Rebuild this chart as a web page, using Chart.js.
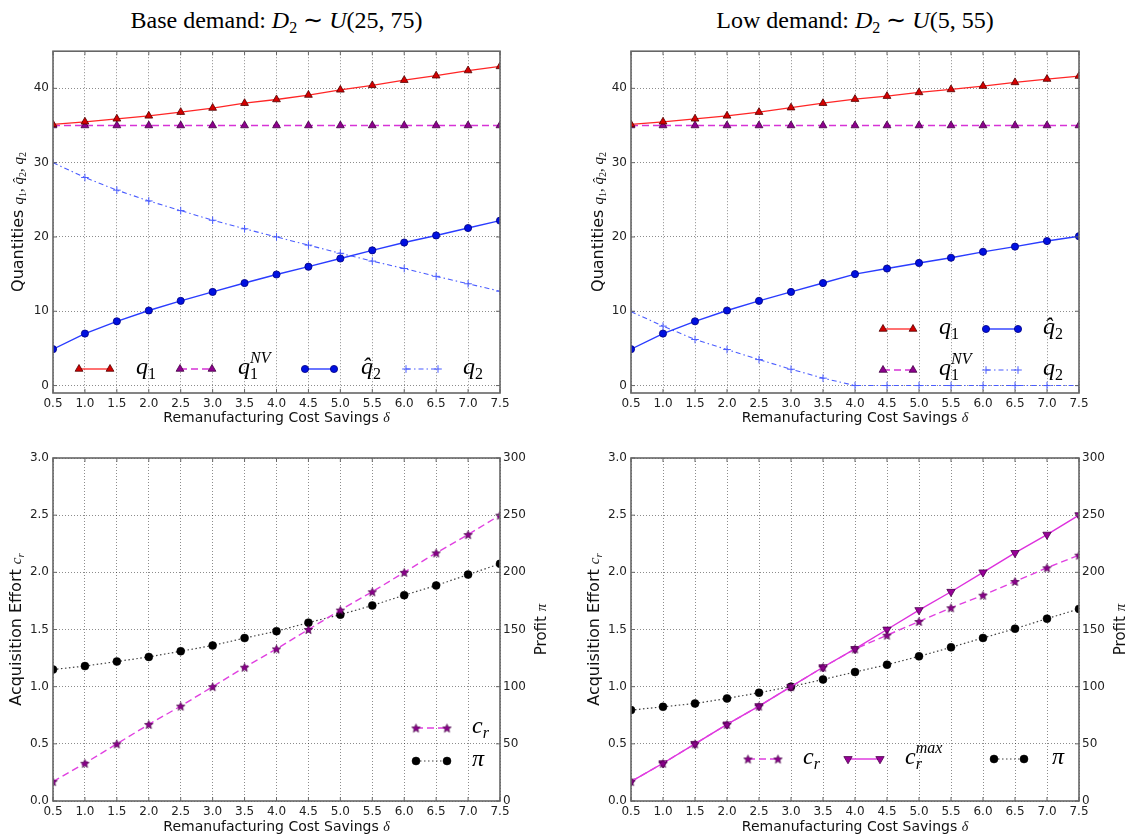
<!DOCTYPE html>
<html>
<head>
<meta charset="utf-8">
<script src="https://cdn.jsdelivr.net/npm/chart.js@4.4.1/dist/chart.umd.min.js"></script>
<style>
    body { margin: 0; background: #fff; width: 1129px; height: 834px; position: relative; overflow: hidden; }
    canvas { position: absolute; }
    .title { position: absolute; font-family: "Liberation Serif", serif; font-size: 24px; line-height: 32px; text-align: center; color: #000; white-space: nowrap; }
    .title sub { font-size: 16px; vertical-align: -5px; line-height: 0; }
</style>
</head>
<body>
<div class="title" style="left:53px; width:447px; top:4px;">Base demand: <i>D</i><sub>2</sub> ∼ <i>U</i>(25, 75)</div>
<div class="title" style="left:631px; width:448px; top:4px;">Low demand: <i>D</i><sub>2</sub> ∼ <i>U</i>(5, 55)</div>
<canvas id="qBase"></canvas>
<canvas id="qLow"></canvas>
<canvas id="effBase"></canvas>
<canvas id="effLow"></canvas>
<script>
// remanufacturing cost savings delta (x values / tick labels)
const deltas = [0.5, 1.0, 1.5, 2.0, 2.5, 3.0, 3.5, 4.0, 4.5, 5.0, 5.5, 6.0, 6.5, 7.0, 7.5];
const qTicks = [0, 10, 20, 30, 40];
const effortTicks = [0, 0.5, 1.0, 1.5, 2.0, 2.5, 3.0];
const profitTicks = [0, 50, 100, 150, 200, 250, 300];

// base demand D2 ~ U(25,75)
const q1Base = [35.15, 35.5, 35.9, 36.3, 36.8, 37.35, 38.0, 38.5, 39.1, 39.8, 40.4, 41.1, 41.7, 42.4, 42.95];
const q1nvBase = [35, 35, 35, 35, 35, 35, 35, 35, 35, 35, 35, 35, 35, 35, 35];
const q2hatBase = [4.9, 7.0, 8.65, 10.1, 11.4, 12.6, 13.8, 14.95, 16.0, 17.1, 18.2, 19.25, 20.2, 21.2, 22.2];
const q2Base = [30.0, 28.0, 26.3, 24.85, 23.55, 22.25, 21.1, 20.0, 18.9, 17.8, 16.75, 15.75, 14.7, 13.7, 12.7];
const crBase = [0.17, 0.33, 0.5, 0.67, 0.83, 1.0, 1.17, 1.33, 1.5, 1.67, 1.83, 2.0, 2.17, 2.33, 2.5];
const profitBase = [115, 118, 122, 126, 131, 136, 142.5, 148.5, 156, 163, 171, 180, 188.5, 198, 207.5];

// low demand D2 ~ U(5,55)
const q1Low = [35.15, 35.5, 35.9, 36.3, 36.8, 37.4, 38.0, 38.55, 38.95, 39.45, 39.85, 40.3, 40.8, 41.25, 41.65];
const q1nvLow = [35, 35, 35, 35, 35, 35, 35, 35, 35, 35, 35, 35, 35, 35, 35];
const q2hatLow = [4.9, 7.0, 8.65, 10.1, 11.4, 12.6, 13.8, 15.0, 15.75, 16.5, 17.2, 18.0, 18.7, 19.45, 20.1];
const q2Low = [9.95, 8.0, 6.2, 4.85, 3.5, 2.2, 1.0, 0, 0, 0, 0, 0, 0, 0, 0];
const crLow = [0.17, 0.33, 0.5, 0.67, 0.83, 1.0, 1.17, 1.33, 1.45, 1.57, 1.69, 1.8, 1.92, 2.04, 2.15];
const crMaxLow = [0.17, 0.33, 0.5, 0.67, 0.83, 1.0, 1.17, 1.33, 1.5, 1.67, 1.83, 2.0, 2.17, 2.33, 2.5];
const profitLow = [79.5, 82.4, 85.3, 89.7, 94.7, 100, 106.3, 112.8, 119.2, 126.5, 134.4, 142.6, 150.7, 159.5, 168];

const SANS = '"DejaVu Sans", sans-serif';
const SERIF = '"Liberation Serif", serif';

const pts = arr => deltas.map((d, i) => ({ x: d, y: arr[i] }));

const makeStar = (r, fill, edge) => {
    const c = document.createElement('canvas');
    const s = Math.ceil(r * 2 + 2);
    c.width = c.height = s;
    const g = c.getContext('2d');
    g.translate(s / 2, s / 2 + 0.5);
    g.beginPath();
    for (let i = 0; i < 10; i++) {
        const rr = i % 2 ? r * 0.45 : r;
        const a = -Math.PI / 2 + i * Math.PI / 5;
        g.lineTo(rr * Math.cos(a), rr * Math.sin(a));
    }
    g.closePath();
    g.fillStyle = fill;
    g.fill();
    g.strokeStyle = edge;
    g.lineWidth = 0.6;
    g.stroke();
    return c;
};
const star = makeStar(4.5, '#8a008a', '#3a003a');

// series styles
const q1Style = data => ({ data: pts(data), borderColor: '#ff2626', borderWidth: 1.3, pointStyle: 'triangle', pointRadius: 4.5, pointBackgroundColor: '#d40000', pointBorderColor: '#500000', pointBorderWidth: 0.8 });
const q1nvStyle = data => ({ data: pts(data), borderColor: '#d633d6', borderWidth: 1.4, borderDash: [7, 4], pointStyle: 'triangle', pointRadius: 4.5, pointBackgroundColor: '#8e008e', pointBorderColor: '#400040', pointBorderWidth: 0.8 });
const q2hatStyle = data => ({ data: pts(data), borderColor: '#2a3cff', borderWidth: 1.4, pointStyle: 'circle', pointRadius: 3.6, pointBackgroundColor: '#0010e0', pointBorderColor: '#000080', pointBorderWidth: 0.8 });
const q2Style = data => ({ data: pts(data), borderColor: '#4a5cff', borderWidth: 1.1, borderDash: [5, 3, 1.5, 3], pointStyle: 'cross', pointRadius: 3.8, pointBackgroundColor: '#4a5cff', pointBorderColor: '#4a5cff', pointBorderWidth: 1 });
const crStyle = data => ({ data: pts(data), yAxisID: 'y', borderColor: '#e040e0', borderWidth: 1.4, borderDash: [7, 4], pointStyle: star, pointRadius: 4.5, pointBackgroundColor: '#8a008a', pointBorderColor: '#3a003a', pointBorderWidth: 0.6 });
const crMaxStyle = data => ({ data: pts(data), yAxisID: 'y', borderColor: '#dd30dd', borderWidth: 1.4, pointStyle: 'triangle', pointRotation: 180, pointRadius: 4.8, pointBackgroundColor: '#980098', pointBorderColor: '#4a004a', pointBorderWidth: 0.8 });
const profitStyle = data => ({ data: pts(data), yAxisID: 'y1', borderColor: '#404040', borderWidth: 1.2, borderDash: [1.5, 2.5], pointStyle: 'circle', pointRadius: 4, pointBackgroundColor: '#000', pointBorderColor: '#000', pointBorderWidth: 0.5 });

// rich text bits: math (serif italic) and plain sans
const M = (t, size, o = {}) => ({ t, size, it: o.it !== false, serif: true, dy: o.dy || 0, stack: !!o.stack });
const S = (t, size) => ({ t, size, it: false, serif: false, dy: 0, stack: false });

const drawRich = (ctx, segs, x, y, align) => {
    const font = s => (s.it ? 'italic ' : '') + s.size + 'px ' + (s.serif ? SERIF : SANS);
    let cur = 0, prevStart = 0;
    const placed = [];
    segs.forEach(s => {
        ctx.font = font(s);
        const w = ctx.measureText(s.t).width;
        const start = s.stack ? prevStart : cur;
        placed.push({ s, start });
        if (!s.stack) prevStart = start;
        cur = Math.max(cur, start + w);
    });
    const off = align === 'center' ? -cur / 2 : 0;
    ctx.textAlign = 'left';
    ctx.textBaseline = 'alphabetic';
    placed.forEach(p => {
        ctx.font = font(p.s);
        ctx.fillText(p.s.t, x + off + p.start, y + p.s.dy);
    });
};

const sub = (t, size, dy) => M(t, size, { it: false, dy: dy });
const q1Lbl = [M('q', 24), sub('1', 16, 5)];
const q1nvLbl = [M('q', 24), sub('1', 16, 5), M('NV', 16, { dy: -11, stack: true })];
const q2hatLbl = [M('q\u0302', 24), sub('2', 16, 5)];
const q2Lbl = [M('q', 24), sub('2', 16, 5)];
const crLbl = [M('c', 24), M('r', 16, { dy: 5 })];
const crMaxLbl = [M('c', 24), M('r', 16, { dy: 5 }), M('max', 16, { dy: -11, stack: true })];
const piLbl = [M('π', 24)];

const qTitle = [S('Quantities ', 16), M('q', 15), sub('1', 10, 3), M(', ', 15, { it: false }), M('q\u0302', 15), sub('2', 10, 3), M(', ', 15, { it: false }), M('q', 15), sub('2', 10, 3)];
const xTitle = [S('Remanufacturing Cost Savings ', 14), M('δ', 14)];
const effortTitle = [S('Acquisition Effort ', 16), M('c', 15), M('r', 11, { dy: 3 })];
const profitTitle = [S('Profit ', 15), M('π', 15)];

const tickFont = { family: SANS, size: 12 };

const makePanel = (id, geo, datasets, yTicks, yMin, yMax, yFmt, withProfit, legend, labels) => {
    const canvas = document.getElementById(id);
    canvas.width = geo.cw;
    canvas.height = geo.ch;
    canvas.style.left = geo.cl + 'px';
    canvas.style.top = geo.ct + 'px';

    const gridOpts = { color: 'rgba(0,0,0,0.45)', lineWidth: 1, drawTicks: false };
    const borderOpts = { display: false, dash: [1, 2] };
    const y1w = withProfit ? geo.y1w : 0;

    const scales = {
        x: {
            type: 'linear', min: 0.5, max: 7.5,
            afterBuildTicks: ax => { ax.ticks = deltas.map(v => ({ value: v })); },
            afterFit: ax => { ax.height = geo.ct + geo.ch - geo.pb; },
            grid: gridOpts, border: borderOpts,
            ticks: { font: tickFont, color: '#222', padding: 4, maxRotation: 0, autoSkip: false, callback: v => v.toFixed(1) }
        },
        y: {
            type: 'linear', position: 'left', min: yMin, max: yMax,
            afterBuildTicks: ax => { ax.ticks = yTicks.map(v => ({ value: v })); },
            afterFit: ax => { ax.width = geo.pl - geo.cl; },
            grid: gridOpts, border: borderOpts,
            ticks: { font: tickFont, color: '#222', padding: 4, callback: yFmt }
        }
    };
    if (withProfit) {
        scales.y1 = {
            type: 'linear', position: 'right', min: 0, max: 300,
            afterBuildTicks: ax => { ax.ticks = profitTicks.map(v => ({ value: v })); },
            afterFit: ax => { ax.width = y1w; },
            grid: { display: false, drawTicks: false }, border: { display: false },
            ticks: { font: tickFont, color: '#222', padding: 3, callback: v => String(v) }
        };
    }

    const framePlugin = {
        id: 'frame_' + id,
        afterDatasetsDraw(chart) {
            const { ctx, chartArea: a } = chart;
            const sx = chart.scales.x, sy = chart.scales.y;
            ctx.save();
            ctx.strokeStyle = '#666';
            ctx.lineWidth = 1;
            ctx.beginPath();
            deltas.forEach(v => {
                const px = sx.getPixelForValue(v);
                ctx.moveTo(px, a.bottom); ctx.lineTo(px, a.bottom - 4);
                ctx.moveTo(px, a.top); ctx.lineTo(px, a.top + 4);
            });
            yTicks.forEach(v => {
                const py = sy.getPixelForValue(v);
                ctx.moveTo(a.left, py); ctx.lineTo(a.left + 4, py);
                ctx.moveTo(a.right, py); ctx.lineTo(a.right - 4, py);
            });
            ctx.stroke();
            ctx.lineWidth = 1.6;
            ctx.strokeRect(a.left, a.top, a.right - a.left, a.bottom - a.top);
            ctx.restore();
        }
    };

    const textPlugin = {
        id: 'text_' + id,
        afterDraw(chart) {
            const ctx = chart.ctx;
            ctx.save();
            ctx.fillStyle = '#111';
            labels.forEach(l => {
                const x = l.x - geo.cl, y = l.y - geo.ct;
                if (l.rot) {
                    ctx.save();
                    ctx.translate(x, y);
                    ctx.rotate(-Math.PI / 2);
                    drawRich(ctx, l.segs, 0, 0, 'center');
                    ctx.restore();
                } else {
                    drawRich(ctx, l.segs, x, y, 'center');
                }
            });
            legend.forEach(e => {
                const ds = chart.data.datasets[e.ds];
                const x1 = e.x1 - geo.cl, x2 = e.x2 - geo.cl, y = e.y - geo.ct;
                ctx.save();
                ctx.strokeStyle = ds.borderColor;
                ctx.lineWidth = ds.borderWidth;
                ctx.setLineDash(ds.borderDash || []);
                ctx.beginPath();
                ctx.moveTo(x1, y);
                ctx.lineTo(x2, y);
                ctx.stroke();
                ctx.setLineDash([]);
                [x1, x2].forEach(px => {
                    ctx.fillStyle = ds.pointBackgroundColor;
                    ctx.strokeStyle = ds.pointBorderColor;
                    ctx.lineWidth = ds.pointBorderWidth;
                    Chart.helpers.drawPoint(ctx, { pointStyle: ds.pointStyle, rotation: ds.pointRotation || 0, radius: ds.pointRadius, borderWidth: ds.pointBorderWidth }, px, y);
                });
                ctx.restore();
                ctx.fillStyle = '#000';
                drawRich(ctx, e.segs, e.lx - geo.cl, y + 5, 'left');
            });
            ctx.restore();
        }
    };

    return new Chart(canvas.getContext('2d'), {
        type: 'line',
        data: { datasets: datasets.map(d => Object.assign({ fill: false, tension: 0 }, d)) },
        options: {
            responsive: false,
            animation: false,
            devicePixelRatio: 1,
            events: [],
            layout: { padding: { left: 0, top: geo.pt - geo.ct, right: geo.cl + geo.cw - geo.pr - y1w, bottom: 0 } },
            plugins: { legend: { display: false }, tooltip: { enabled: false } },
            scales: scales
        },
        plugins: [framePlugin, textPlugin]
    });
};

const qFmt = v => String(v);
const effFmt = v => v.toFixed(1);

const geoTL = { cl: 0, ct: 40, cw: 570, ch: 390, pl: 53, pr: 500, pt: 51, pb: 393 };
const geoTR = { cl: 565, ct: 40, cw: 564, ch: 390, pl: 631, pr: 1079, pt: 51, pb: 393 };
const geoBL = { cl: 0, ct: 435, cw: 570, ch: 399, pl: 53, pr: 500, pt: 458, pb: 801, y1w: 62 };
const geoBR = { cl: 565, ct: 435, cw: 564, ch: 399, pl: 631, pr: 1079, pt: 458, pb: 801, y1w: 50 };

makePanel('qBase', geoTL,
    [q1Style(q1Base), q1nvStyle(q1nvBase), q2hatStyle(q2hatBase), q2Style(q2Base)],
    qTicks, -1, 45, qFmt, false,
    [
        { ds: 0, x1: 79, x2: 110, lx: 136, y: 369, segs: q1Lbl },
        { ds: 1, x1: 180, x2: 212, lx: 238, y: 369, segs: q1nvLbl },
        { ds: 2, x1: 305, x2: 334, lx: 361, y: 369, segs: q2hatLbl },
        { ds: 3, x1: 406, x2: 438, lx: 463, y: 369, segs: q2Lbl }
    ],
    [
        { segs: qTitle, x: 23, y: 222, rot: true },
        { segs: xTitle, x: 276.5, y: 422 }
    ]);

makePanel('qLow', geoTR,
    [q1Style(q1Low), q1nvStyle(q1nvLow), q2hatStyle(q2hatLow), q2Style(q2Low)],
    qTicks, -1, 45, qFmt, false,
    [
        { ds: 0, x1: 883, x2: 913, lx: 939, y: 329, segs: q1Lbl },
        { ds: 2, x1: 986, x2: 1018, lx: 1043, y: 329, segs: q2hatLbl },
        { ds: 1, x1: 883, x2: 913, lx: 939, y: 370, segs: q1nvLbl },
        { ds: 3, x1: 986, x2: 1018, lx: 1043, y: 370, segs: q2Lbl }
    ],
    [
        { segs: qTitle, x: 603, y: 222, rot: true },
        { segs: xTitle, x: 855, y: 422 }
    ]);

makePanel('effBase', geoBL,
    [crStyle(crBase), profitStyle(profitBase)],
    effortTicks, 0, 3, effFmt, true,
    [
        { ds: 0, x1: 416, x2: 447, lx: 472, y: 728, segs: crLbl },
        { ds: 1, x1: 416, x2: 447, lx: 472, y: 761, segs: piLbl }
    ],
    [
        { segs: effortTitle, x: 21, y: 629.5, rot: true },
        { segs: profitTitle, x: 546, y: 629.5, rot: true },
        { segs: xTitle, x: 276.5, y: 831 }
    ]);

makePanel('effLow', geoBR,
    [crStyle(crLow), crMaxStyle(crMaxLow), profitStyle(profitLow)],
    effortTicks, 0, 3, effFmt, true,
    [
        { ds: 0, x1: 748, x2: 778, lx: 803, y: 759, segs: crLbl },
        { ds: 1, x1: 848, x2: 880, lx: 905, y: 759, segs: crMaxLbl },
        { ds: 2, x1: 994, x2: 1024, lx: 1052, y: 759, segs: piLbl }
    ],
    [
        { segs: effortTitle, x: 599, y: 629.5, rot: true },
        { segs: profitTitle, x: 1125, y: 629.5, rot: true },
        { segs: xTitle, x: 855, y: 831 }
    ]);
</script>
</body>
</html>
